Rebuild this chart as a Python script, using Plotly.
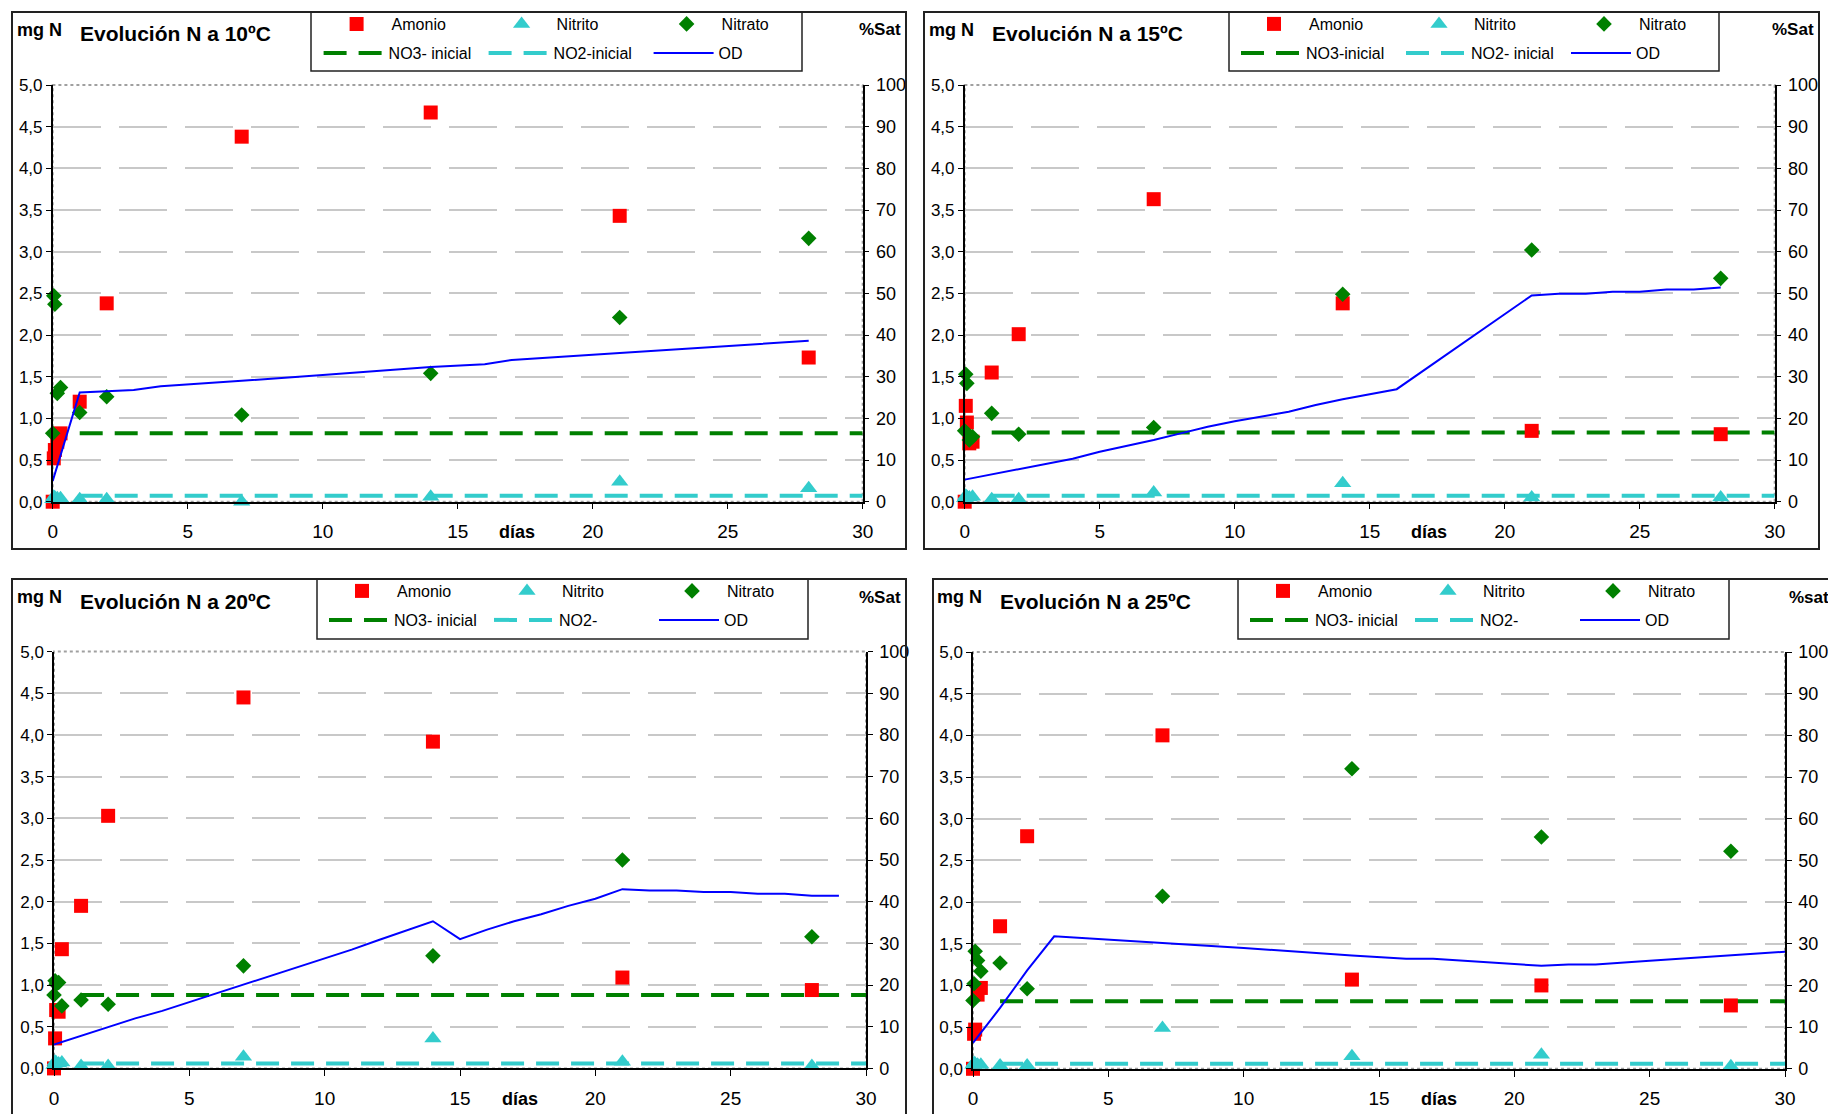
import plotly.graph_objects as go

# ---------------- DATA ----------------
t_days = [0, 0.04, 0.08, 0.17, 0.29, 1, 2, 7, 14, 21, 28]

amonio_10 = [0.0, 0.52, 0.62, 0.72, 0.82, 1.20, 2.38, 4.38, 4.67, 3.43, 1.73]
nitrito_10 = [0.03, 0.06, 0.05, 0.04, 0.04, 0.03, 0.03, 0.0, 0.06, 0.24, 0.16]
nitrato_10 = [0.82, 2.47, 2.37, 1.30, 1.37, 1.07, 1.26, 1.04, 1.54, 2.21, 3.16]
od_days_10 = [0, 1, 2, 3, 4, 5, 7, 10, 14, 16, 17, 21, 25, 28]
od_sat_10 = [5.0, 26.2, 26.5, 26.8, 27.7, 28.1, 29.0, 30.4, 32.3, 33.0, 34.0, 35.7, 37.4, 38.6]

amonio_15 = [0.0, 1.15, 0.95, 0.70, 0.72, 1.55, 2.01, 3.63, 2.38, 0.85, 0.81]
nitrito_15 = [0.04, 0.07, 0.06, 0.05, 0.06, 0.03, 0.03, 0.11, 0.22, 0.05, 0.05]
nitrato_15 = [0.85, 1.53, 1.42, 0.74, 0.78, 1.06, 0.81, 0.89, 2.49, 3.02, 2.68]
od_days_15 = [0, 2, 4, 5, 7, 8, 9, 10, 12, 13, 14, 16, 17, 19, 20, 21, 22, 23, 24, 25, 26, 27, 28]
od_sat_15 = [5.3, 7.8, 10.3, 12.0, 14.8, 16.4, 18.0, 19.3, 21.6, 23.2, 24.6, 27.0, 31.5,
             40.5, 45.2, 49.5, 49.9, 49.9, 50.4, 50.4, 50.9, 50.9, 51.4]

amonio_20 = [0.0, 0.36, 0.70, 0.68, 1.43, 1.95, 3.03, 4.45, 3.92, 1.09, 0.94]
nitrito_20 = [0.04, 0.08, 0.07, 0.06, 0.07, 0.03, 0.03, 0.14, 0.36, 0.08, 0.03]
nitrato_20 = [0.88, 1.05, 1.01, 1.03, 0.75, 0.82, 0.77, 1.23, 1.35, 2.50, 1.58]
od_days_20 = list(range(0, 30))
od_sat_20 = [5.7, 7.8, 9.9, 12.0, 13.8, 15.9, 18.0, 20.1, 22.1, 24.2, 26.3, 28.5, 30.8, 33.0, 35.3,
             31.0, 33.3, 35.3, 37.0, 39.0, 40.7, 43.0, 42.7, 42.7, 42.3, 42.3, 41.9, 41.9, 41.4, 41.4]

amonio_25 = [0.0, 0.42, 0.47, 0.89, 0.97, 1.71, 2.79, 4.00, 1.07, 1.00, 0.76]
nitrito_25 = [0.05, 0.07, 0.06, 0.05, 0.05, 0.04, 0.04, 0.49, 0.15, 0.17, 0.03]
nitrato_25 = [0.82, 1.02, 1.41, 1.30, 1.17, 1.27, 0.96, 2.07, 3.60, 2.78, 2.61]
od_days_25 = [0, 1, 2, 3, 7, 10, 14, 16, 17, 21, 22, 23, 25, 28, 30]
od_sat_25 = [6.2, 14.6, 23.6, 31.8, 30.2, 29.0, 27.2, 26.4, 26.4, 24.7, 25.0, 25.0, 25.9, 27.2, 28.1]

ref_days = [1, 30]
no3_inicial = [0.82, 0.83, 0.88, 0.81]
no2_inicial = [0.07, 0.07, 0.06, 0.06]

titles = ["Evolución N a 10ºC", "Evolución N a 15ºC", "Evolución N a 20ºC", "Evolución N a 25ºC"]
sat_labels = ["%Sat", "%Sat", "%Sat", "%sat"]
no3_names = ["NO3- inicial", "NO3-inicial", "NO3- inicial", "NO3- inicial"]
no2_names = ["NO2-inicial", "NO2- inicial", "NO2-", "NO2-"]

amonio = [amonio_10, amonio_15, amonio_20, amonio_25]
nitrito = [nitrito_10, nitrito_15, nitrito_20, nitrito_25]
nitrato = [nitrato_10, nitrato_15, nitrato_20, nitrato_25]
od_days = [od_days_10, od_days_15, od_days_20, od_days_25]
od_sat = [od_sat_10, od_sat_15, od_sat_20, od_sat_25]

# ---------------- LAYOUT GEOMETRY (pixels) ----------------
W, H = 1828, 1114
FONT = "Liberation Sans, Arial, sans-serif"

geo = [
    dict(px=(52.7, 862.7), py=(85, 501.7), frame=(12, 12, 906, 549), lbox=(311, 12, 802, 71),
         lleft=318.6, rows=(24, 53), mg=(15, 30), title=(78, 34), sat=(903, 30), dias=532),
    dict(px=(964.7, 1774.7), py=(85, 501.7), frame=(924, 12, 1819, 549), lbox=(1229, 12, 1719, 71),
         lleft=1236, rows=(24, 53), mg=(927, 30), title=(990, 34), sat=(1816, 30), dias=532),
    dict(px=(54, 866), py=(651.6, 1068.4), frame=(12, 579, 906, 1125), lbox=(317, 579, 808, 639),
         lleft=324, rows=(591, 620), mg=(15, 597), title=(78, 601), sat=(903, 597), dias=1099),
    dict(px=(973, 1785), py=(652, 1068.8), frame=(933, 579, 1835, 1125), lbox=(1238, 579, 1729, 639),
         lleft=1245, rows=(591, 620), mg=(935, 597), title=(998, 601), sat=(1831, 597), dias=1099),
]


def fx(p):
    return p / W


def fy(p):
    return 1 - p / H


RED, CYAN, GREEN, BLUE = "#FF0000", "#33CCCC", "#008000", "#0000FF"

fig = go.Figure()
layout = dict(
    width=W, height=H, margin=dict(l=0, r=0, t=0, b=0, autoexpand=False),
    paper_bgcolor="white", plot_bgcolor="white", separators=",.",
    font=dict(family=FONT, color="black"),
    shapes=[], annotations=[],
)

for i in range(4):
    g = geo[i]
    n = i + 1
    xa = "x" if n == 1 else f"x{n}"
    ya = "y" if n == 1 else f"y{n}"
    yr = f"y{n + 4}"
    leg_top = "legend" if n == 1 else f"legend{2 * n - 1}"
    leg_bot = f"legend{2 * n}"

    # reference lines + OD
    fig.add_trace(go.Scatter(x=ref_days, y=[no3_inicial[i]] * 2, mode="lines", name=no3_names[i],
                             line=dict(color=GREEN, width=4, dash="23px,12px"),
                             xaxis=xa, yaxis=ya, legend=leg_bot, hoverinfo="skip"))
    fig.add_trace(go.Scatter(x=ref_days, y=[no2_inicial[i]] * 2, mode="lines", name=no2_names[i],
                             line=dict(color=CYAN, width=4, dash="23px,12px"),
                             xaxis=xa, yaxis=ya, legend=leg_bot, hoverinfo="skip"))
    fig.add_trace(go.Scatter(x=od_days[i], y=od_sat[i], mode="lines", name="OD",
                             line=dict(color=BLUE, width=2),
                             xaxis=xa, yaxis=yr, legend=leg_bot))
    # markers
    fig.add_trace(go.Scatter(x=t_days, y=amonio[i], mode="markers", name="Amonio",
                             marker=dict(symbol="square", size=14, color=RED),
                             xaxis=xa, yaxis=ya, legend=leg_top, cliponaxis=False))
    fig.add_trace(go.Scatter(x=t_days, y=nitrito[i], mode="markers", name="Nitrito",
                             marker=dict(symbol="triangle-up", size=15, color=CYAN),
                             xaxis=xa, yaxis=ya, legend=leg_top, cliponaxis=False))
    fig.add_trace(go.Scatter(x=t_days, y=nitrato[i], mode="markers", name="Nitrato",
                             marker=dict(symbol="diamond", size=12, color=GREEN),
                             xaxis=xa, yaxis=ya, legend=leg_top, cliponaxis=False))

    xdom = [fx(g["px"][0]), fx(g["px"][1])]
    ydom = [fy(g["py"][1]), fy(g["py"][0])]
    xkey = "xaxis" if n == 1 else f"xaxis{n}"
    ykey = "yaxis" if n == 1 else f"yaxis{n}"
    layout[xkey] = dict(domain=xdom, anchor=ya, range=[0, 30], tick0=0, dtick=5,
                        showgrid=False, zeroline=False, showline=True, linecolor="black",
                        linewidth=1.5, ticks="outside", ticklen=6, tickcolor="black",
                        tickfont=dict(size=19, family=FONT), ticklabelstandoff=6)
    layout[ykey] = dict(domain=ydom, anchor=xa, range=[0, 5], tick0=0, dtick=0.5,
                        tickformat=".1f", showgrid=True, gridcolor="#c8c8c8", gridwidth=2,
                        griddash="48px,18px", zeroline=False, showline=True,
                        linecolor="black", linewidth=1.5, ticks="outside", ticklen=5,
                        tickcolor="black", tickfont=dict(size=17, family=FONT))
    layout[f"yaxis{n + 4}"] = dict(domain=ydom, anchor=xa, overlaying=ya, side="right",
                                   range=[0, 100], tick0=0, dtick=10, showgrid=False,
                                   zeroline=False, showline=True, linecolor="black",
                                   linewidth=1.5, ticks="outside", ticklen=5, tickcolor="black",
                                   tickfont=dict(size=18, family=FONT), ticklabelstandoff=3)

    legcommon = dict(orientation="h", xanchor="left", yanchor="middle", entrywidth=90,
                     entrywidthmode="pixels", itemwidth=60, font=dict(size=16, family=FONT),
                     bgcolor="rgba(0,0,0,0)", borderwidth=0, tracegroupgap=0)
    layout[leg_top] = dict(x=fx(g["lleft"] + 3), y=fy(g["rows"][0]), **legcommon)
    layout[leg_bot] = dict(x=fx(g["lleft"]), y=fy(g["rows"][1]), **legcommon)

    # panel frame
    f = g["frame"]
    layout["shapes"].append(dict(type="rect", xref="paper", yref="paper",
                                 x0=fx(f[0]), x1=fx(f[2]), y0=fy(f[3]), y1=fy(f[1]),
                                 line=dict(color="#222222", width=2)))
    # legend box
    lb = g["lbox"]
    layout["shapes"].append(dict(type="rect", xref="paper", yref="paper",
                                 x0=fx(lb[0]), x1=fx(lb[2]), y0=fy(lb[3]), y1=fy(lb[1]),
                                 line=dict(color="#222222", width=1.5)))
    # plot area dotted border
    layout["shapes"].append(dict(type="rect", xref=f"{xa} domain", yref=f"{ya} domain",
                                 x0=0, x1=1, y0=0, y1=1, layer="below",
                                 line=dict(color="#a0a0a0", width=2, dash="dot")))

    ann = layout["annotations"]
    ann.append(dict(text="<b>mg N</b>", xref="paper", yref="paper", x=fx(g["mg"][0]),
                    y=fy(g["mg"][1]), xanchor="left", yanchor="middle", showarrow=False,
                    font=dict(size=18, family=FONT)))
    ann.append(dict(text=f"<b>{titles[i]}</b>", xref="paper", yref="paper", x=fx(g["title"][0]),
                    y=fy(g["title"][1]), xanchor="left", yanchor="middle", showarrow=False,
                    font=dict(size=21, family=FONT)))
    ann.append(dict(text=f"<b>{sat_labels[i]}</b>", xref="paper", yref="paper", x=fx(g["sat"][0]),
                    y=fy(g["sat"][1]), xanchor="right", yanchor="middle", showarrow=False,
                    font=dict(size=17, family=FONT)))
    ann.append(dict(text="<b>días</b>", xref=xa, yref="paper", x=17.2,
                    y=fy(g["dias"]), xanchor="center", yanchor="middle", showarrow=False,
                    font=dict(size=18, family=FONT)))

fig.update_layout(**layout)
fig.write_html("out.html", config={"displayModeBar": False},
               post_script="document.body.style.margin='0px';")
